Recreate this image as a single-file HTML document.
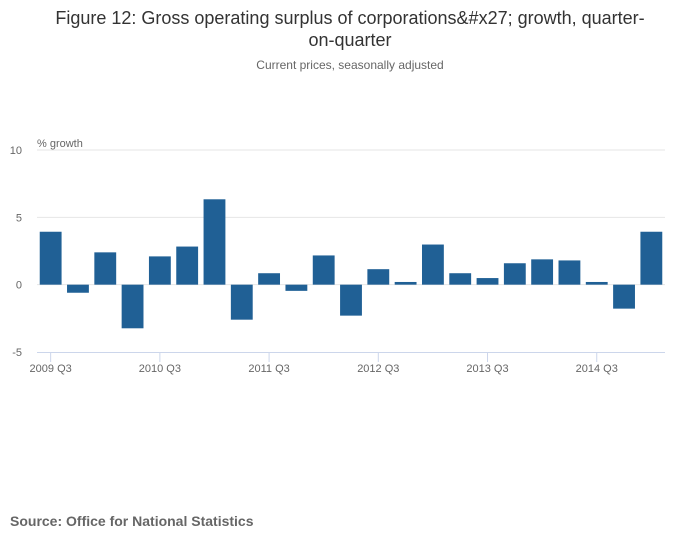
<!DOCTYPE html>
<html><head><meta charset="utf-8"><style>
body{margin:0;background:#fff;font-family:"Liberation Sans",sans-serif;}
#wrap{position:relative;width:700px;height:549px;overflow:hidden;}
</style></head><body>
<div id="wrap">
<svg id="svg" width="700" height="549" xmlns="http://www.w3.org/2000/svg">
<text x="350" y="24" text-anchor="middle" font-size="18" fill="#333">Figure 12: Gross operating surplus of corporations&amp;#x27; growth, quarter-</text>
<text x="350" y="46" text-anchor="middle" font-size="18" fill="#333">on-quarter</text>
<text x="350" y="69" text-anchor="middle" font-size="12" fill="#666">Current prices, seasonally adjusted</text>
<text x="37" y="147" font-size="11" fill="#666">% growth</text>
<text x="10" y="526" font-size="14" font-weight="bold" fill="#666">Source: Office for National Statistics</text>
<g id="grid"></g><g id="bars"></g><g id="axis"></g>
</svg>
</div>
<script>
const categories=["2009 Q3","2009 Q4","2010 Q1","2010 Q2","2010 Q3","2010 Q4","2011 Q1","2011 Q2","2011 Q3","2011 Q4","2012 Q1","2012 Q2","2012 Q3","2012 Q4","2013 Q1","2013 Q2","2013 Q3","2013 Q4","2014 Q1","2014 Q2","2014 Q3","2014 Q4","2015 Q1"];
const values=[3.93,-0.6,2.4,-3.24,2.1,2.83,6.34,-2.6,0.85,-0.46,2.17,-2.3,1.15,0.2,2.98,0.85,0.49,1.59,1.88,1.8,0.2,-1.78,3.93];
const yTicks=[-5,0,5,10];
const xTickLabels=["2009 Q3","2010 Q3","2011 Q3","2012 Q3","2013 Q3","2014 Q3"];
const NS="http://www.w3.org/2000/svg";
const L=37,R=665,T=150,B=352,yMin=-5,yMax=10;
const y=v=>B-(v-yMin)/(yMax-yMin)*(B-T);
const band=(R-L)/categories.length;
const xc=i=>L+band*(i+0.5);
function mk(tag,attrs,parent){const e=document.createElementNS(NS,tag);for(const k in attrs)e.setAttribute(k,attrs[k]);parent.appendChild(e);return e;}
const grid=document.getElementById('grid'),bars=document.getElementById('bars'),axis=document.getElementById('axis');
yTicks.forEach(t=>{
  if(t!==yMin){const g=mk('line',{x1:L,x2:R,y1:y(t),y2:y(t),stroke:'#e6e6e6','stroke-width':1},grid);
  
  }
  const tx=mk('text',{x:22,y:y(t)+4,'text-anchor':'end','font-size':11,fill:'#666'},axis);
  tx.textContent=t;
  
  
});
values.forEach((v,i)=>{
  const w=band*0.8;
  const r=mk('rect',{x:xc(i)-w/2,y:Math.min(y(v),y(0)),width:w,height:Math.abs(y(v)-y(0)),fill:'#206095'},bars);
  
  
});
const ax=mk('line',{x1:L,x2:R,y1:B+0.5,y2:B+0.5,stroke:'#ccd6eb','stroke-width':1},axis);


categories.forEach((c,i)=>{
  const k=xTickLabels.indexOf(c);
  if(k<0)return;
  const tk=mk('line',{x1:xc(i),x2:xc(i),y1:B,y2:B+10,stroke:'#ccd6eb'},axis);
  
  
  const tx=mk('text',{x:xc(i),y:B+20,'text-anchor':'middle','font-size':11,fill:'#666'},axis);
  tx.textContent=c;
  
  
});
</script>
</body></html>
